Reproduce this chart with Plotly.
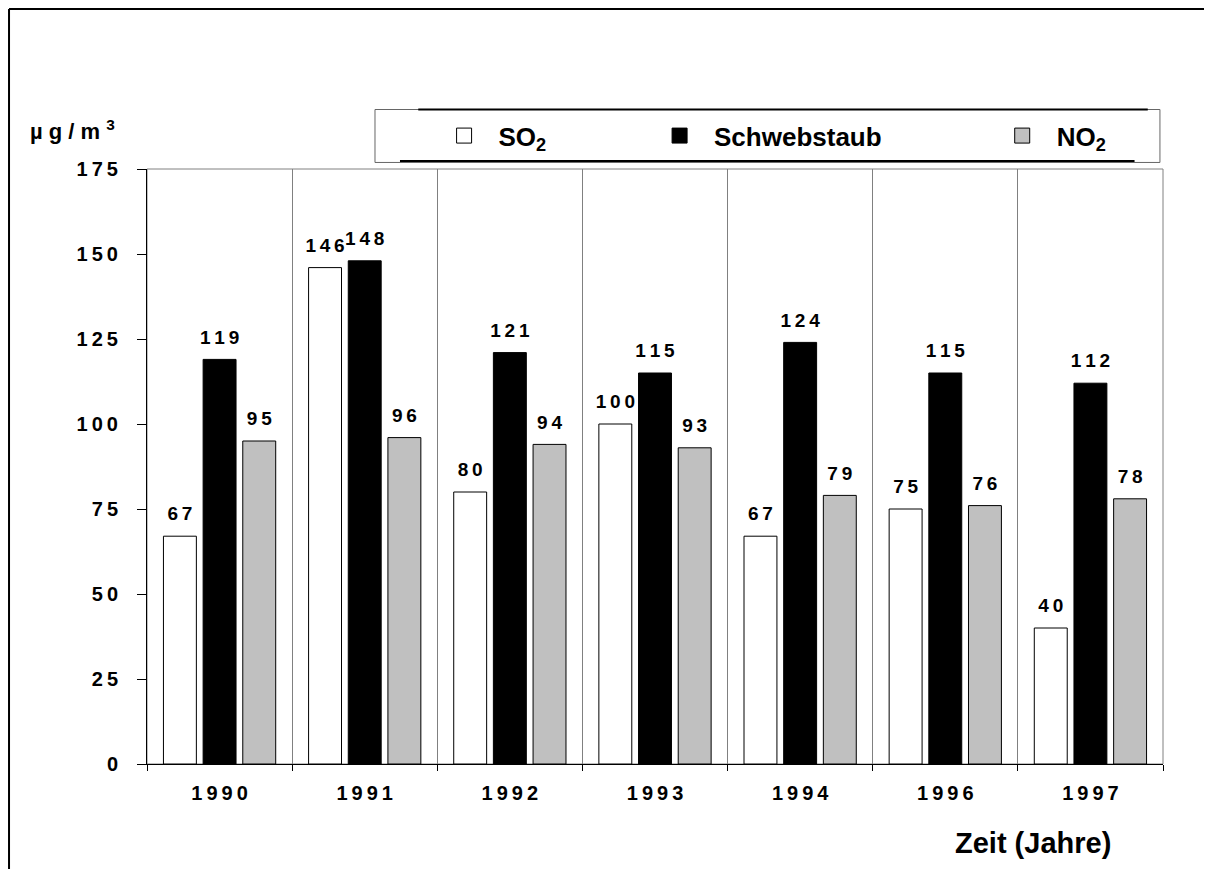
import plotly.graph_objects as go

years = ["1990", "1991", "1992", "1993", "1994", "1996", "1997"]
so2 = [67, 146, 80, 100, 67, 75, 40]
staub = [119, 148, 121, 115, 124, 115, 112]
no2 = [95, 96, 94, 93, 79, 76, 78]
y_ticks = [0, 25, 50, 75, 100, 125, 150, 175]

series = [
    ("SO<sub>2</sub>", so2, "white", 15),
    ("Schwebstaub", staub, "black", 16),
    ("NO<sub>2</sub>", no2, "#c0c0c0", 0),
]

THIN = "\u2009"

def spaced(v):
    return THIN.join(str(v))

FONT = "Arial, Liberation Sans, sans-serif"
NB = "\u00a0"

fig = go.Figure()
for i, (name, vals, color, pad) in enumerate(series):
    fig.add_trace(go.Bar(
        x=years, y=vals, name=name,
        marker=dict(color=color, line=dict(color="black", width=1)),
        offsetgroup=str(i), showlegend=False,
    ))
for i, (name, vals, color, pad) in enumerate(series):
    fig.add_trace(go.Scatter(
        x=years, y=vals, mode="markers+text",
        text=[spaced(v) for v in vals], textposition="top center",
        textfont=dict(family=FONT, size=19, color="black", weight="bold"),
        marker=dict(size=16, opacity=0), offsetgroup=str(i),
        showlegend=False, hoverinfo="skip", cliponaxis=False,
    ))
# legend entries (larger square swatches)
for i, (name, vals, color, pad) in enumerate(series):
    fig.add_trace(go.Scatter(
        x=[None], y=[None], mode="markers", name=NB * 2 + name + NB * pad,
        marker=dict(symbol="square", size=15, color=color, line=dict(color="black", width=1)),
        showlegend=True, hoverinfo="skip",
    ))

fig.update_layout(
    width=1212, height=869, autosize=False,
    margin=dict(l=139, r=57, t=161, b=113),
    paper_bgcolor="white", plot_bgcolor="white",
    barmode="group", bargap=0.18, bargroupgap=0.17,
    scattermode="group", scattergap=0.18,
    font=dict(family=FONT, color="black"),
    showlegend=True,
    legend=dict(
        orientation="h", x=0.2924, xanchor="left", y=1.056, yanchor="middle",
        font=dict(family=FONT, size=26, color="black", weight="bold"),
        bgcolor="rgba(0,0,0,0)", borderwidth=0, itemclick=False, itemsizing="trace",
    ),
    xaxis=dict(
        type="category", tickson="boundaries", ticks="outside", ticklen=6,
        tickcolor="black", showline=True, linecolor="black", linewidth=1,
        showgrid=True, gridcolor="#808080", gridwidth=1,
        tickvals=years, ticktext=[spaced(y) for y in years],
        tickfont=dict(family=FONT, size=20, color="black", weight="bold"),
        ticklabelstandoff=11,
    ),
    yaxis=dict(
        range=[0, 175], tickvals=y_ticks, ticktext=[spaced(v) for v in y_ticks],
        ticks="outside", ticklen=9, tickcolor="black",
        showline=True, linecolor="black", linewidth=1,
        showgrid=False, zeroline=False,
        tickfont=dict(family=FONT, size=20, color="black", weight="bold"),
        ticklabelstandoff=15,
    ),
)

# plot frame (top/right), gray
fig.add_shape(type="rect", xref="paper", yref="paper", x0=0, x1=1, y0=0, y1=1,
              line=dict(color="#808080", width=1), layer="below")
# outer page frame: top and left
fig.add_shape(type="line", xref="paper", yref="paper", x0=-0.1358, x1=1.06, y0=1.2689, y1=1.2689,
              line=dict(color="black", width=2))
fig.add_shape(type="line", xref="paper", yref="paper", x0=-0.1358, x1=-0.1358, y0=1.2689, y1=-0.2,
              line=dict(color="black", width=2))
# legend box
fig.add_shape(type="rect", xref="paper", yref="paper", x0=0.2244, x1=0.997, y0=1.011, y1=1.1,
              line=dict(color="#666666", width=1))
fig.add_shape(type="line", xref="paper", yref="paper", x0=0.267, x1=0.985, y0=1.1, y1=1.1,
              line=dict(color="black", width=2))
fig.add_shape(type="line", xref="paper", yref="paper", x0=0.249, x1=0.972, y0=1.0135, y1=1.0135,
              line=dict(color="black", width=2))

fig.add_annotation(xref="paper", yref="paper", x=-0.117, y=1.066, xanchor="left", yanchor="middle",
                   text="µ g / m <sup>3</sup>", showarrow=False,
                   font=dict(family=FONT, size=22, color="black", weight="bold"))
fig.add_annotation(xref="paper", yref="paper", x=0.872, y=-0.133, xanchor="center", yanchor="middle",
                   text="Zeit (Jahre)", showarrow=False,
                   font=dict(family=FONT, size=29, color="black", weight="bold"))

fig.write_html("out.html")
